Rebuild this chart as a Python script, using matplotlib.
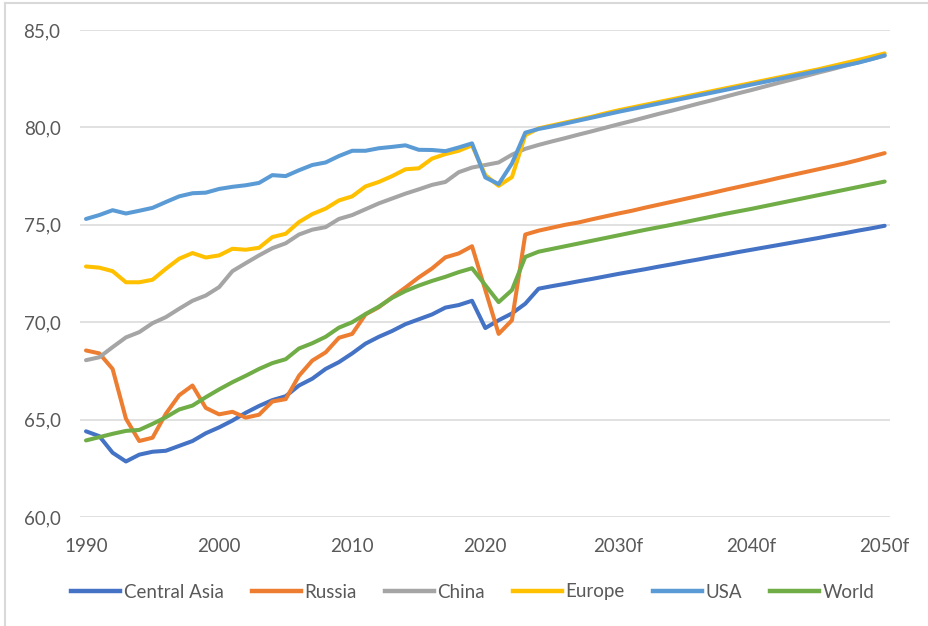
import matplotlib
matplotlib.use("Agg")
import matplotlib.pyplot as plt
from matplotlib.lines import Line2D

plt.rcParams['font.family'] = ['Lato', 'DejaVu Sans']

years = list(range(1990, 2051))
tick_years = [1990, 2000, 2010, 2020, 2030, 2040, 2050]
tick_labels = ["1990", "2000", "2010", "2020", "2030f", "2040f", "2050f"]
y_ticks = [60, 65, 70, 75, 80, 85]

central_asia = [
    64.4, 64.15, 63.3, 62.85, 63.2, 63.35, 63.4, 63.65, 63.9, 64.3,
    64.6, 64.95, 65.35, 65.7, 66.0, 66.2, 66.75, 67.1, 67.6, 67.95,
    68.4, 68.9, 69.25, 69.55, 69.9, 70.15, 70.4, 70.75, 70.88, 71.1,
    69.7, 70.1, 70.45, 70.95, 71.72, 71.85, 71.97, 72.1, 72.22, 72.35,
    72.48, 72.6, 72.72, 72.85, 72.97, 73.1, 73.22, 73.35, 73.47, 73.6,
    73.72, 73.84, 73.96, 74.08, 74.2, 74.32, 74.45, 74.57, 74.7, 74.82,
    74.95,
]
russia = [
    68.55, 68.4, 67.6, 65.05, 63.9, 64.07, 65.3, 66.25, 66.75, 65.6,
    65.27, 65.4, 65.1, 65.25, 65.93, 66.05, 67.25, 68.03, 68.45, 69.2,
    69.4, 70.4, 70.77, 71.28, 71.78, 72.3, 72.76, 73.33, 73.53, 73.9,
    71.65, 69.4, 70.1, 74.5, 74.7, 74.85, 75.0, 75.12, 75.28, 75.43,
    75.58, 75.72, 75.88, 76.03, 76.18, 76.33, 76.48, 76.63, 76.79, 76.94,
    77.09, 77.24, 77.4, 77.55, 77.7, 77.85, 78.0, 78.15, 78.32, 78.5,
    78.68,
]
china = [
    68.05, 68.2, 68.72, 69.22, 69.49, 69.95, 70.26, 70.69, 71.1, 71.37,
    71.8, 72.62, 73.03, 73.43, 73.8, 74.05, 74.5, 74.75, 74.88, 75.3,
    75.5, 75.8, 76.1, 76.35, 76.6, 76.82, 77.05, 77.2, 77.7, 77.94,
    78.07, 78.2, 78.6, 78.9, 79.1, 79.28, 79.45, 79.63, 79.8, 79.98,
    80.16, 80.33, 80.51, 80.69, 80.86, 81.04, 81.22, 81.39, 81.57, 81.75,
    81.92, 82.1, 82.28, 82.45, 82.63, 82.81, 82.98, 83.16, 83.34, 83.51,
    83.68,
]
europe = [
    72.86, 72.8, 72.62, 72.05, 72.05, 72.18, 72.74, 73.26, 73.55, 73.32,
    73.43, 73.77, 73.72, 73.82, 74.37, 74.54, 75.14, 75.55, 75.83, 76.25,
    76.46, 76.97, 77.2, 77.5, 77.85, 77.9, 78.4, 78.63, 78.8, 79.08,
    77.55, 77.0, 77.45, 79.6, 79.95, 80.1, 80.25, 80.4, 80.55, 80.72,
    80.88, 81.02, 81.16, 81.3, 81.44, 81.58, 81.72, 81.86, 82.0, 82.14,
    82.28, 82.42, 82.56, 82.7, 82.84, 82.98, 83.14, 83.3, 83.46, 83.63,
    83.8,
]
usa = [
    75.3, 75.5, 75.75, 75.58, 75.72, 75.87, 76.17, 76.46, 76.62, 76.65,
    76.84, 76.95, 77.03, 77.15, 77.55, 77.5, 77.8, 78.07, 78.2, 78.53,
    78.8, 78.8, 78.93, 79.0, 79.08, 78.85, 78.84, 78.78, 78.97, 79.18,
    77.43, 77.09, 78.15, 79.73, 79.92, 80.05, 80.2, 80.35, 80.5, 80.65,
    80.8, 80.94, 81.08, 81.22, 81.36, 81.5, 81.64, 81.78, 81.92, 82.06,
    82.2, 82.34, 82.48, 82.62, 82.76, 82.9, 83.04, 83.18, 83.32, 83.5,
    83.7,
]
world = [
    63.93, 64.1, 64.27, 64.42, 64.47, 64.78, 65.12, 65.52, 65.72, 66.15,
    66.55, 66.92, 67.25, 67.6, 67.9, 68.1, 68.65, 68.92, 69.25, 69.72,
    70.0, 70.42, 70.8, 71.25, 71.6, 71.88, 72.12, 72.33, 72.57, 72.77,
    71.9, 71.03, 71.65, 73.35, 73.62, 73.76, 73.9, 74.04, 74.18, 74.32,
    74.46, 74.6, 74.74, 74.87, 75.0, 75.14, 75.28, 75.42, 75.56, 75.69,
    75.82, 75.96, 76.1, 76.24, 76.38, 76.52, 76.66, 76.8, 76.94, 77.08,
    77.22,
]

series = [
    ("Central Asia", central_asia, "#4472C4"),
    ("Russia", russia, "#ED7D31"),
    ("China", china, "#A5A5A5"),
    ("Europe", europe, "#FFC000"),
    ("USA", usa, "#5B9BD5"),
    ("World", world, "#70AD47"),
]

text_color = "#595959"
grid_color = "#D9D9D9"

fig = plt.figure(figsize=(9.29, 6.26), dpi=100)
ax = fig.add_axes([80 / 929, 1 - 517 / 626, 810 / 929, 487 / 626])

for name, vals, color in series:
    ax.plot(years, vals, color=color, lw=2.9, solid_joinstyle="round",
            solid_capstyle="round", label=name)

ax.set_ylim(60, 85)
ax.set_xlim(1989.55, 2050.4)
ax.set_yticks(y_ticks)
ax.set_yticklabels([f"{v},0" for v in y_ticks])
ax.set_xticks(tick_years)
ax.set_xticklabels(tick_labels)
ax.tick_params(axis="both", length=0, labelsize=13.5, labelcolor=text_color)
ax.tick_params(axis="y", pad=14)
ax.tick_params(axis="x", pad=15)
ax.grid(axis="y", color=grid_color, lw=1.1)
ax.set_axisbelow(True)
for s in ax.spines.values():
    s.set_visible(False)

handles = [Line2D([0], [0], color=c, lw=3.2) for _, _, c in series]
fig.legend(handles, [n for n, _, _ in series], loc="center",
           bbox_to_anchor=(473 / 929, 1 - 592 / 626), ncol=6, frameon=False,
           fontsize=13.5, labelcolor=text_color, handlelength=2.6,
           handletextpad=0.2, columnspacing=1.5)

# chart frame (left and top edges)
fig.add_artist(Line2D([5 / 929, 5 / 929], [0, 1 - 3 / 626],
                      transform=fig.transFigure, color=grid_color, lw=1.5))
fig.add_artist(Line2D([5 / 929, 1], [1 - 3 / 626, 1 - 3 / 626],
                      transform=fig.transFigure, color=grid_color, lw=1.5))

fig.savefig("out.png", dpi=100, facecolor="white")
